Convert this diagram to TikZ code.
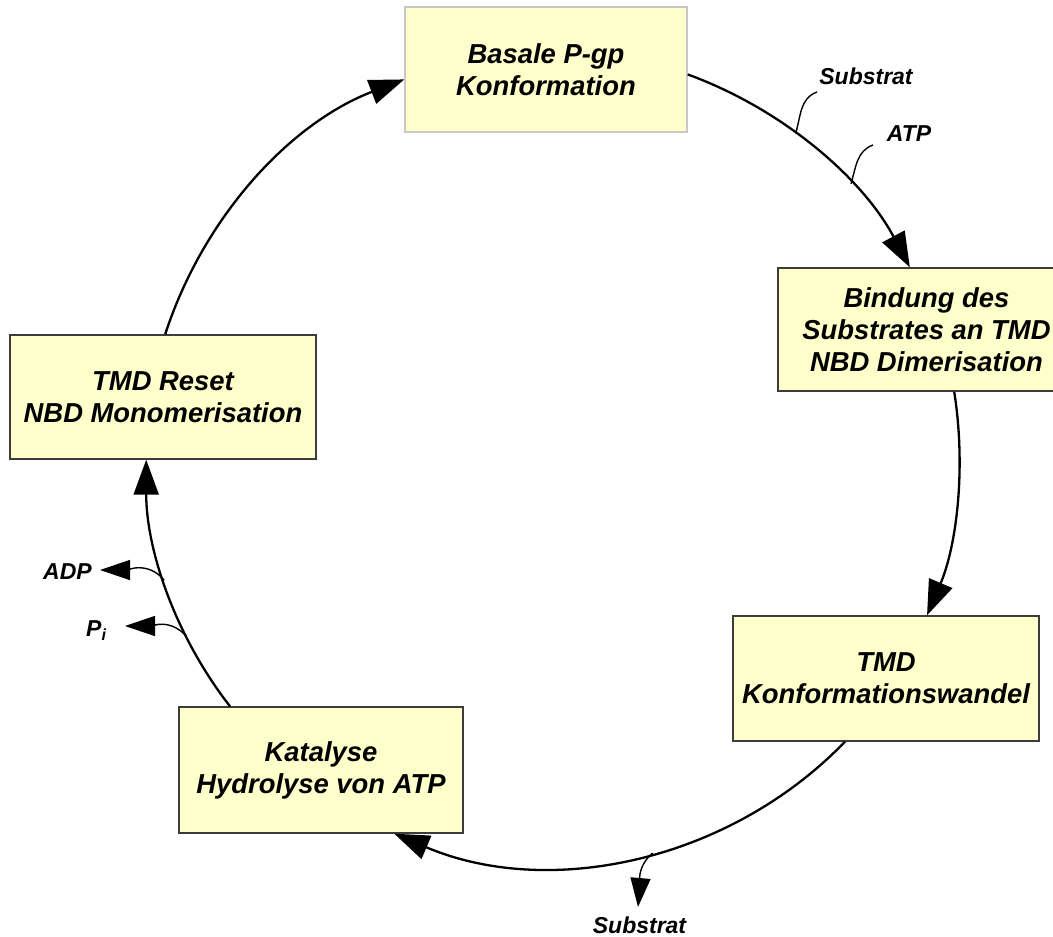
\documentclass[tikz,border=0pt]{standalone}
\usepackage{fontspec}
\setmainfont{Liberation Sans}
\usetikzlibrary{arrows.meta}
\definecolor{boxfill}{RGB}{255,255,204}
\definecolor{boxline}{RGB}{60,60,60}
\definecolor{paleline}{RGB}{200,200,200}

\begin{document}
\begin{tikzpicture}[x=1pt,y=1pt,
  state/.style={draw=boxline, line width=1.4pt, fill=boxfill, align=center,
    inner sep=0pt, font=\fontsize{27.4}{32}\selectfont\bfseries\itshape},
  flow/.style={line width=2.3pt, -{Triangle[length=35pt,width=25pt]}},
  side/.style={line width=1.4pt, -{Triangle[length=30pt,width=20pt]}},
  feed/.style={line width=1.4pt},
  lbl/.style={font=\fontsize{23}{27}\selectfont\bfseries\itshape, inner sep=0pt}]

\useasboundingbox (0,0) rectangle (1053,-937);

% the five states of the transport cycle
\node[state, draw=paleline, minimum width=282pt, minimum height=125pt]
  (top) at (546,-69.5) {Basale P-gp\\Konformation};
\node[state, minimum width=297pt, minimum height=123pt]
  (bind) at (926.5,-329.5) {Bindung des\\Substrates an TMD\\NBD Dimerisation};
\node[state, minimum width=306pt, minimum height=125pt]
  (konf) at (886,-678.5) {TMD\\Konformationswandel};
\node[state, minimum width=284pt, minimum height=126pt]
  (kat) at (321,-770) {Katalyse\\Hydrolyse von ATP};
\node[state, minimum width=306pt, minimum height=124pt]
  (reset) at (163,-397) {TMD Reset\\NBD Monomerisation};

% cycle arrows, all on one circle
\draw[flow] (top.-2) to[out=-20, in=118, looseness=0.88]
  coordinate[pos=0.41] (insub) coordinate[pos=0.66] (inatp) (bind.105);
\draw[flow] (bind.-66) to[out=-81, in=67, looseness=0.87] (konf.57);
\draw[flow] (konf.-123) to[out=-134, in=-23, looseness=0.93]
  coordinate[pos=0.46] (outsub) (kat.-41);
\draw[flow] (kat.145) to[out=128, in=-90, looseness=0.88]
  coordinate[pos=0.31] (outpi) coordinate[pos=0.54] (outadp) (reset.-105);
\draw[flow] (reset.88) to[out=72, in=-159, looseness=0.9] (top.-176);

% labels
\node[lbl] (lsub) at (866,-76) {Substrat};
\node[lbl] (latp) at (909,-133.5) {ATP};
\node[lbl] (ladp) at (67.5,-572) {ADP};
\node[lbl, anchor=base west] (lpi) at (86,-636.5) {P\textsubscript{i}};
\node[lbl] (lsubout) at (639.5,-925) {Substrat};

% substances entering and leaving
\coordinate (subtail) at (817,-92);
\coordinate (atptail) at (873,-145);
\coordinate (adptip) at (100,-570);
\coordinate (pitip) at (125,-626);
\coordinate (subtip) at (638,-907);

\draw[feed] (subtail) to[out=200, in=73] (insub);
\draw[feed] (atptail) to[out=200, in=73] (inatp);
\draw[side] (outadp) to[out=130, in=0] (adptip);
\draw[side] (outpi) to[out=130, in=0] (pitip);
\draw[side, -{Triangle[length=29pt,width=20pt]}] (outsub) to[out=-140, in=85] (subtip);
\end{tikzpicture}
\end{document}
